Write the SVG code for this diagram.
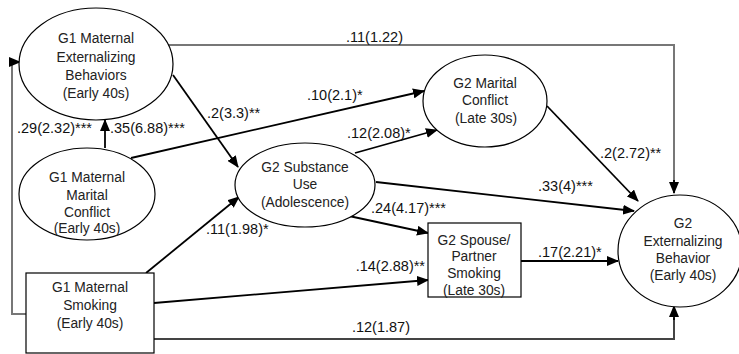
<svg xmlns="http://www.w3.org/2000/svg" width="739" height="354" viewBox="0 0 739 354">
<style>
.node{fill:#fff;stroke:#000;stroke-width:1.2}
.nt{font-family:"Liberation Sans",Arial,sans-serif;font-size:13.8px;fill:#222;text-anchor:middle}
.lb{font-family:"Liberation Sans",Arial,sans-serif;font-size:14.5px;fill:#111}
.e{fill:none;stroke:#000;stroke-width:1.8}
.g{fill:none;stroke:#777;stroke-width:2}
.g2{fill:none;stroke:#444;stroke-width:2}
</style>
<defs>
<marker id="ah" markerUnits="userSpaceOnUse" markerWidth="12" markerHeight="10" refX="11" refY="5" orient="auto">
<path d="M0,0 L12,5 L0,10 Z" fill="#000"/>
</marker>
</defs>
<rect width="739" height="354" fill="#fff"/>
<g id="connectors">
<polyline class="g" points="168,45 674,45 674,182" />
<line x1="674" y1="180" x2="674" y2="193" stroke="#000" stroke-width="1.8" marker-end="url(#ah)"/>
<polyline class="g" points="26,314 12,314 12,62 14,62"/>
<line x1="12" y1="62" x2="20" y2="62" stroke="#000" stroke-width="1.5" marker-end="url(#ah)"/>
<polyline class="g2" points="154,339 674,339 674,318"/>
<line x1="674" y1="320" x2="674" y2="306" stroke="#000" stroke-width="1.8" marker-end="url(#ah)"/>
<line class="e" x1="105" y1="148" x2="105" y2="120" marker-end="url(#ah)"/>
<line class="e" x1="173" y1="75" x2="238" y2="167" marker-end="url(#ah)"/>
<line class="e" x1="131" y1="158" x2="424" y2="91" marker-end="url(#ah)"/>
<line class="e" x1="355" y1="153" x2="437" y2="130" marker-end="url(#ah)"/>
<line class="e" x1="376" y1="182" x2="634" y2="211" marker-end="url(#ah)"/>
<line class="e" x1="547" y1="106" x2="638" y2="201" marker-end="url(#ah)"/>
<line class="e" x1="349" y1="216" x2="428" y2="233" marker-end="url(#ah)"/>
<line class="e" x1="146" y1="273" x2="239" y2="197" marker-end="url(#ah)"/>
<line class="e" x1="154" y1="303" x2="428" y2="280" marker-end="url(#ah)"/>
<line class="e" x1="521" y1="261" x2="618" y2="261" marker-end="url(#ah)"/>
</g>
<g id="labels">
<text class="lb" x="17" y="133">.29(2.32)***</text>
<text class="lb" x="110" y="133">.35(6.88)***</text>
<text class="lb" x="207" y="118">.2(3.3)**</text>
<text class="lb" x="307" y="100">.10(2.1)*</text>
<text class="lb" x="346" y="42">.11(1.22)</text>
<text class="lb" x="347" y="138">.12(2.08)*</text>
<text class="lb" x="538" y="191">.33(4)***</text>
<text class="lb" x="600" y="158">.2(2.72)**</text>
<text class="lb" x="371" y="213">.24(4.17)***</text>
<text class="lb" x="206" y="234">.11(1.98)*</text>
<text class="lb" x="425" y="271" text-anchor="end">.14(2.88)**</text>
<text class="lb" x="538" y="257">.17(2.21)*</text>
<text class="lb" x="410" y="332" text-anchor="end">.12(1.87)</text>
</g>
<g id="g1_ext">
<ellipse class="node" cx="96" cy="64" rx="77" ry="56"/>
<text class="nt" x="96" y="43">G1 Maternal</text>
<text class="nt" x="96" y="62">Externalizing</text>
<text class="nt" x="96" y="80">Behaviors</text>
<text class="nt" x="96" y="98">(Early 40s)</text>
</g>
<g id="g1_marital">
<ellipse class="node" cx="87" cy="194" rx="68" ry="46"/>
<text class="nt" x="87" y="182">G1 Maternal</text>
<text class="nt" x="87" y="200">Marital</text>
<text class="nt" x="87" y="217">Conflict</text>
<text class="nt" x="87" y="233">(Early 40s)</text>
</g>
<g id="g1_smoking">
<rect class="node" x="26" y="273" width="128" height="80"/>
<text class="nt" x="90" y="292">G1 Maternal</text>
<text class="nt" x="90" y="310">Smoking</text>
<text class="nt" x="90" y="328">(Early 40s)</text>
</g>
<g id="g2_substance">
<ellipse class="node" cx="305" cy="185" rx="70" ry="42"/>
<text class="nt" x="305" y="172">G2 Substance</text>
<text class="nt" x="305" y="189">Use</text>
<text class="nt" x="305" y="207">(Adolescence)</text>
</g>
<g id="g2_marital">
<ellipse class="node" cx="485" cy="101" rx="62" ry="46"/>
<text class="nt" x="485" y="88">G2 Marital</text>
<text class="nt" x="485" y="105">Conflict</text>
<text class="nt" x="486" y="123">(Late 30s)</text>
</g>
<g id="g2_spouse">
<rect class="node" x="428" y="223" width="93" height="74"/>
<text class="nt" x="474" y="245">G2 Spouse/</text>
<text class="nt" x="474" y="261">Partner</text>
<text class="nt" x="474" y="278">Smoking</text>
<text class="nt" x="474" y="295">(Late 30s)</text>
</g>
<g id="g2_ext">
<ellipse class="node" cx="680" cy="251" rx="62" ry="56"/>
<text class="nt" x="683" y="228">G2</text>
<text class="nt" x="683" y="246">Externalizing</text>
<text class="nt" x="683" y="263">Behavior</text>
<text class="nt" x="683" y="280">(Early 40s)</text>
</g>
</svg>
